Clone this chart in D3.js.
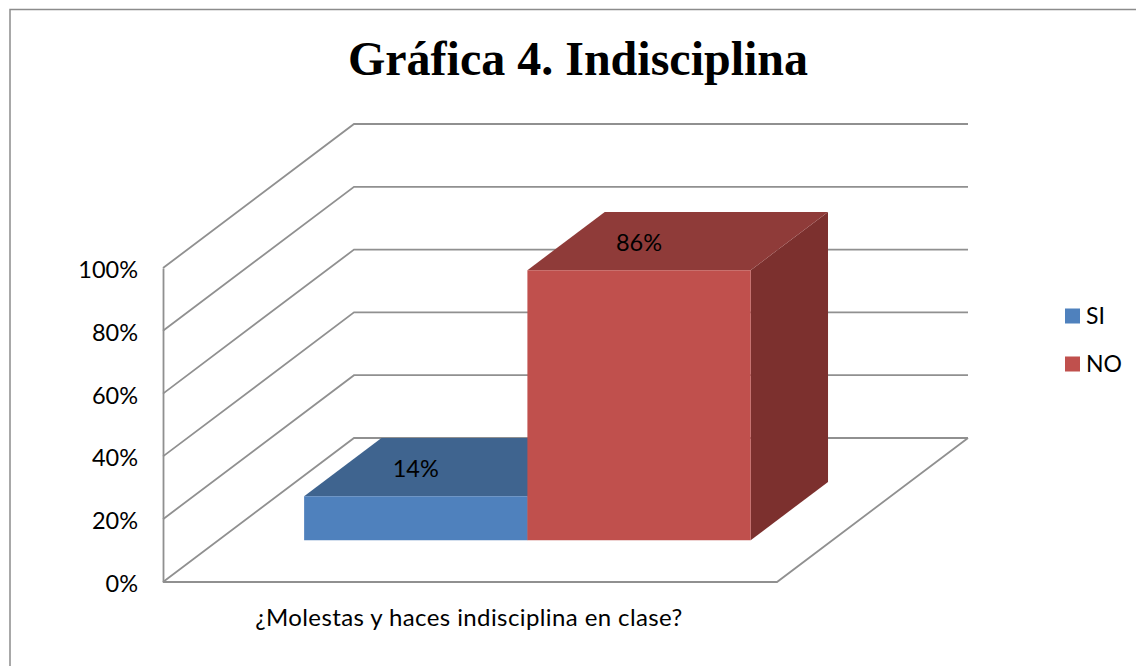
<!DOCTYPE html>
<meta charset="utf-8">
<style>
body { margin: 0; background: white; }
svg { display: block; }
text { font-family: Lato, sans-serif; fill: black; }
.title { font-family: "Liberation Serif", serif; font-weight: bold; font-size: 48px; }
.grid { fill: none; stroke: #909090; stroke-width: 1.8px; }
.frame { fill: none; stroke: #8c8c8c; stroke-width: 1.5px; }
</style>
<body>
<script src="https://d3js.org/d3.v7.min.js"></script>
<script>

var titleText = "Gráfica 4. Indisciplina";
var category = "¿Molestas y haces indisciplina en clase?";
var series = ["SI", "NO"];
var values = [0.14, 0.86];
var tickValues = [0, 0.2, 0.4, 0.6, 0.8, 1];
var colors = ["#4f81bd", "#c0504d"];
var topColors = ["#3f648f", "#8f3b39"];
var sideColors = ["#37587e", "#7c302e"];

var width = 1136, height = 666;

var svg = d3.select("body").append("svg")
    .attr("width", width)
    .attr("height", height);

// scales, depth runs from the front of the floor to the back wall
var x = d3.scaleBand().domain(series).range([163, 777]).paddingInner(0).paddingOuter(0.375).align(0.512);
var y = d3.scaleLinear().domain([0, 1]).range([582, 268]);
var depthX = d3.scaleLinear().domain([0, 1]).range([0, 191]);
var depthY = d3.scaleLinear().domain([0, 1]).range([0, -144]);

var barFront = 0.29, barBack = 0.695;

// project a point (horizontal px, value, depth) onto the page
function pt(px, v, d) {
  return [px + depthX(d), y(v) + depthY(d)];
}
var line = d3.line();

// frame, only top and left show
svg.append("path")
    .attr("class", "frame")
    .attr("d", "M10,666V9.5H1136");

svg.append("text")
    .attr("class", "title")
    .attr("x", 578)
    .attr("y", 75)
    .attr("text-anchor", "middle")
    .text(titleText);

// walls
var left = x.range()[0], right = x.range()[1];
tickValues.forEach(function(t) {
  svg.append("path")
      .attr("class", "grid")
      .attr("d", line([pt(left, t, 0), pt(left, t, 1), pt(right, t, 1)]));
});

// floor
svg.append("path")
    .attr("class", "grid")
    .attr("d", line([pt(left, 0, 0), pt(right, 0, 0), pt(right, 0, 1)]));

// value axis
var yAxis = d3.axisLeft(y)
    .tickValues(tickValues)
    .tickFormat(d3.format(".0%"))
    .tickSize(0)
    .tickPadding(25);

var axisG = svg.append("g")
    .attr("transform", "translate(" + left + ",0)")
    .call(yAxis);
axisG.select(".domain").attr("stroke", "#909090").attr("stroke-width", 1.8);
axisG.selectAll("text")
    .style("font-family", "Lato, sans-serif")
    .style("font-size", "23.5px")
    .attr("dy", "0.4em");

// bars
series.forEach(function(s, i) {
  var x0 = x(s), x1 = x0 + x.bandwidth(), v = values[i];
  var g = svg.append("g");
  g.append("path")
      .attr("fill", sideColors[i])
      .attr("d", line([pt(x1, 0, barFront), pt(x1, v, barFront), pt(x1, v, barBack), pt(x1, 0, barBack)]) + "Z");
  g.append("path")
      .attr("fill", topColors[i])
      .attr("d", line([pt(x0, v, barFront), pt(x1, v, barFront), pt(x1, v, barBack), pt(x0, v, barBack)]) + "Z");
  g.append("path")
      .attr("fill", colors[i])
      .attr("d", line([pt(x0, 0, barFront), pt(x1, 0, barFront), pt(x1, v, barFront), pt(x0, v, barFront)]) + "Z");
});

// data labels sit on the top faces
series.forEach(function(s, i) {
  var p = pt(x(s) + x.bandwidth() / 2, values[i], barFront);
  var q = pt(x(s) + x.bandwidth() / 2, values[i], barBack);
  svg.append("text")
      .attr("x", p[0])
      .attr("y", (p[1] + q[1]) / 2 + 10)
      .attr("text-anchor", "middle")
      .style("font-size", "23.5px")
      .text(d3.format(".0%")(values[i]));
});

// category label
svg.append("text")
    .attr("x", 469)
    .attr("y", 626)
    .attr("text-anchor", "middle")
    .style("font-size", "24px")
    .style("letter-spacing", "0.4px")
    .text(category);

// legend
var legendY = d3.scalePoint().domain(series).range([316, 364]);
series.forEach(function(s, i) {
  svg.append("rect")
      .attr("x", 1065)
      .attr("y", legendY(s) - 7.5)
      .attr("width", 15)
      .attr("height", 15)
      .attr("fill", colors[i]);
  svg.append("text")
      .attr("x", 1086)
      .attr("y", legendY(s) + 8)
      .style("font-size", "23px")
      .text(s);
});

</script>
</body>
